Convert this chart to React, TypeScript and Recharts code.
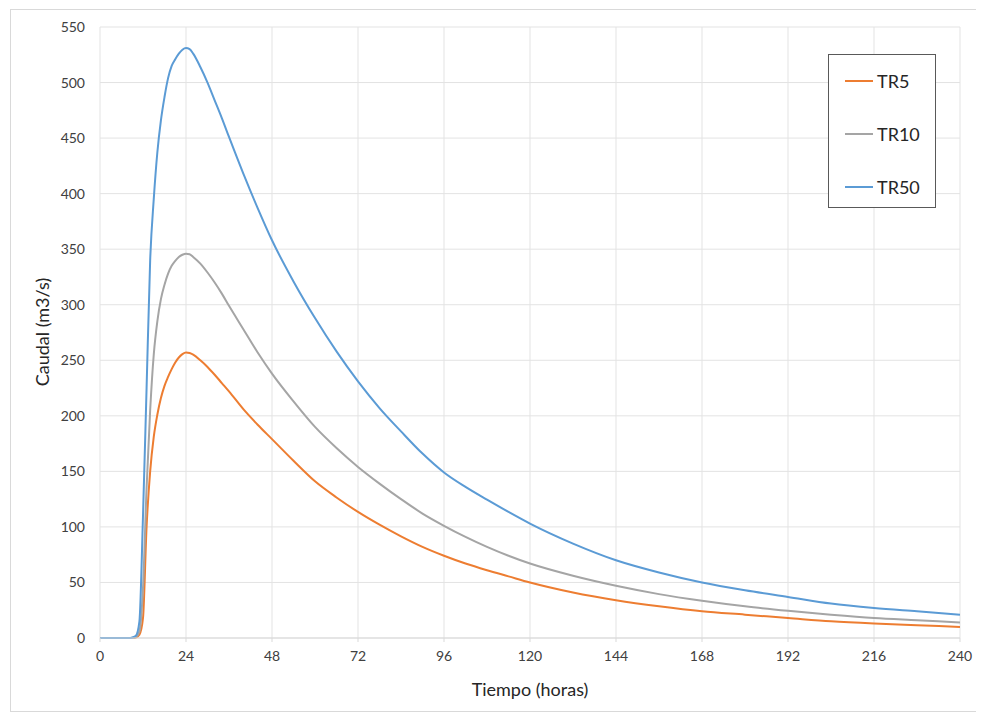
import React from 'react';
import { LineChart, Line, XAxis, YAxis, CartesianGrid } from 'recharts';

// tiempo (horas)
const horas = [0, 2, 4, 6, 8, 9, 10, 11, 12, 13, 14, 15, 16, 17, 18, 19, 20, 21, 22, 23, 24, 25, 26, 28, 30, 32, 34, 36, 40, 44, 48, 54, 60, 66, 72, 78, 84, 90, 96, 102, 108, 114, 120, 132, 144, 156, 168, 180, 192, 204, 216, 228, 240];

// caudal (m3/s)
const tr5 = [0, 0, 0, 0, 0, 0, 0.5, 3, 18, 100, 150, 181, 201, 216, 227, 235, 242, 248, 252.5, 255.5, 257, 256.5, 255, 250, 244, 237, 229.5, 222, 206, 192, 179, 159.5, 141, 126.5, 113.5, 102, 91.5, 82, 74, 67, 61, 55.5, 50, 41, 34, 28.5, 24, 21, 18, 15, 13, 11.5, 10];
const tr10 = [0, 0, 0, 0, 0, 0, 1, 6, 45, 135, 205, 255, 285, 305, 318, 328, 335, 339.5, 343, 345, 346, 345.5, 343, 337, 329, 320, 310, 299, 278, 257, 238, 213, 190, 171, 154, 139, 125, 112, 101, 91, 82, 74, 67, 56, 47, 39.5, 33.5, 28.5, 24.5, 21, 18, 16, 14];
const tr50 = [0, 0, 0, 0, 0, 0.5, 2, 15, 110, 225, 340, 395, 437, 466, 487, 504, 515, 521, 526, 529.5, 531, 530, 526, 514, 500, 484, 468, 451, 418, 387, 358, 321, 288, 258, 231, 207, 186, 166, 149, 136, 124.5, 113.5, 103, 85, 70, 59, 50, 43, 37, 31, 27, 24, 21];

const xTicks = [0, 24, 48, 72, 96, 120, 144, 168, 192, 216, 240];
const yTicks = [0, 50, 100, 150, 200, 250, 300, 350, 400, 450, 500, 550];

const series = [
  { key: 'TR5', color: '#ED7D31' },
  { key: 'TR10', color: '#A5A5A5' },
  { key: 'TR50', color: '#5B9BD5' },
];

const data = horas.map((h, i) => ({ h, TR5: tr5[i], TR10: tr10[i], TR50: tr50[i] }));

const font = 'Lato, "Open Sans", sans-serif';

const LegendBox = () => (
  <div style={{ position: 'absolute', left: 817, top: 44, width: 106, height: 152, border: '1px solid #595959', background: '#fff', fontSize: 18, color: '#262626' }}>
    {series.map((s, i) => (
      <div key={s.key} style={{ position: 'absolute', left: 16, top: 14 + i * 53, height: 24, display: 'flex', alignItems: 'center' }}>
        <span style={{ display: 'inline-block', width: 28, height: 2, background: s.color, marginRight: 4 }} />
        <span>{s.key}</span>
      </div>
    ))}
  </div>
);

export default function App() {
  return (
    <div style={{ position: 'relative', marginLeft: 2, marginTop: 1, width: 973, height: 701, border: '1px solid #d9d9d9', fontFamily: font }}>
      <LineChart width={973} height={701} data={data} margin={{ top: 17, right: 24, bottom: 43, left: 29 }}>
        <CartesianGrid stroke="#e3e3e3" strokeWidth={1} />
        <XAxis
          dataKey="h"
          type="number"
          domain={[0, 240]}
          ticks={xTicks}
          height={30}
          stroke="#d9d9d9"
          tickSize={4}
          tickMargin={9}
          tick={{ fill: '#404040', fontSize: 14, fontFamily: font }}
        />
        <YAxis
          type="number"
          domain={[0, 550]}
          ticks={yTicks}
          width={60}
          axisLine={false}
          tickLine={false}
          tickSize={0}
          tickMargin={15}
          tick={{ fill: '#404040', fontSize: 14, fontFamily: font }}
        />
        {series.map((s) => (
          <Line key={s.key} type="monotone" dataKey={s.key} stroke={s.color} strokeWidth={2} dot={false} isAnimationActive={false} />
        ))}
      </LineChart>
      <LegendBox />
      <div style={{ position: 'absolute', left: 0, width: 1038, top: 668, textAlign: 'center', fontSize: 18, color: '#262626' }}>Tiempo (horas)</div>
      <div style={{ position: 'absolute', left: 31, top: 322, transform: 'translate(-50%, -50%) rotate(-90deg)', whiteSpace: 'nowrap', fontSize: 18, color: '#262626' }}>Caudal (m3/s)</div>
    </div>
  );
}
